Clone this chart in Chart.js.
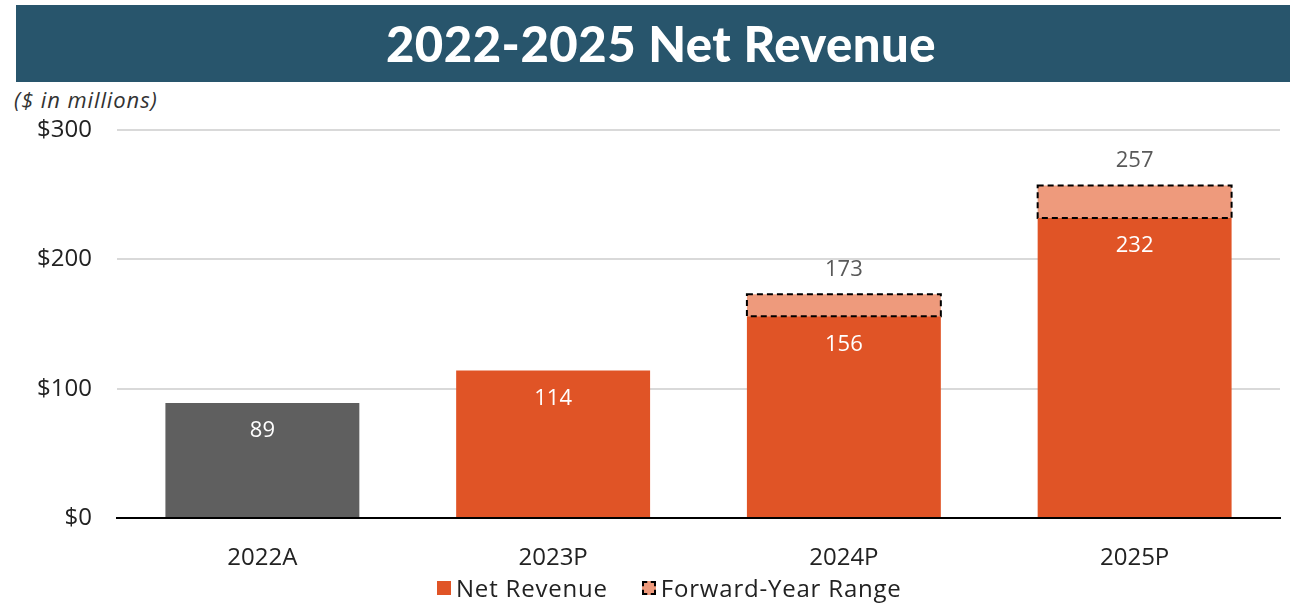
<!DOCTYPE html>
<html>
<head>
<meta charset="utf-8">
<script src="https://cdn.jsdelivr.net/npm/chart.js"></script>
<style>
  html, body { margin: 0; padding: 0; background: #fff; }
  body { width: 1293px; height: 604px; position: relative; overflow: hidden; font-family: "Open Sans", sans-serif; }
  .banner { position: absolute; left: 16px; top: 5px; width: 1274px; height: 77px; background: #28556c;
            color: #fff; font-family: "Lato", sans-serif; font-weight: 900; font-size: 49px; line-height: 77px; text-align: center; }
  .banner span { position: relative; left: 8px; letter-spacing: 0.5px; }
  .sub { position: absolute; left: 14px; top: 84px; font-style: italic; font-size: 22px; color: #333; letter-spacing: 0.9px; }
  .wrap { position: absolute; left: 0; top: 0; width: 1293px; height: 604px; }
  .legend { position: absolute; left: 437px; top: 572px; font-size: 24px; color: #222; display: flex; align-items: center; line-height: 32px; letter-spacing: 0.8px; }
  .legend .box { display: inline-block; width: 14px; height: 14px; margin-right: 5px; box-sizing: border-box; }
  .legend .item { display: flex; align-items: center; margin-right: 34px; }
</style>
</head>
<body>
<div class="banner"><span>2022-2025 Net Revenue</span></div>
<div class="sub">($ in millions)</div>
<div class="wrap"><canvas id="revChart"></canvas></div>
<div class="legend" id="legend"></div>
<script>
const years = ['2022A', '2023P', '2024P', '2025P'];
const netRevenue = [89, 114, 156, 232];
const rangeExtra = [null, null, 17, 25];
const rangeTotal = [null, null, 173, 257];
const yTicks = [0, 100, 200, 300];

const ORANGE = '#e05426';
const GREY = '#5f5f5f';
const LIGHT = '#ee9a7c';

// labels + dashed outline for the range bars
const labelPlugin = {
  id: 'barLabels',
  afterDatasetsDraw(chart) {
    const ctx = chart.ctx;
    const net = chart.getDatasetMeta(0);
    const rng = chart.getDatasetMeta(1);
    ctx.save();
    ctx.textAlign = 'center';
    ctx.textBaseline = 'middle';
    ctx.font = '22px "Open Sans"';
    net.data.forEach((bar, i) => {
      ctx.fillStyle = '#fff';
      ctx.fillText(netRevenue[i], bar.x, bar.y + 28);
    });
    rng.data.forEach((bar, i) => {
      if (rangeExtra[i] == null) return;
      const p = bar.getProps(['x', 'y', 'base', 'width'], true);
      ctx.strokeStyle = '#000';
      ctx.lineWidth = 2;
      ctx.setLineDash([6, 4]);
      ctx.strokeRect(p.x - p.width / 2, p.y, p.width, p.base - p.y);
      ctx.setLineDash([]);
      ctx.fillStyle = '#595959';
      ctx.fillText(rangeTotal[i], p.x, p.y - 25);
    });
    ctx.restore();
  }
};

const chart = new Chart(document.getElementById('revChart'), {
  type: 'bar',
  data: {
    labels: years,
    datasets: [
      { label: 'Net Revenue', data: netRevenue,
        backgroundColor: years.map((y, i) => i === 0 ? GREY : ORANGE) },
      { label: 'Forward-Year Range', data: rangeExtra, backgroundColor: LIGHT }
    ]
  },
  options: {
    responsive: true,
    maintainAspectRatio: false,
    animation: false,
    layout: { padding: { top: 130, left: 0, right: 13, bottom: 0 } },
    datasets: { bar: { barPercentage: 0.667, categoryPercentage: 1 } },
    scales: {
      x: {
        stacked: true,
        afterFit(axis) { axis.height = 86; },
        grid: { display: false },
        border: { color: '#000', width: 2 },
        ticks: { color: '#222', font: { size: 24, family: 'Open Sans' }, padding: 18 }
      },
      y: {
        stacked: true,
        min: 0, max: 300,
        afterFit(axis) { axis.width = 117; },
        afterBuildTicks(axis) { axis.ticks = yTicks.map(v => ({ value: v })); },
        grid: { color: '#d9d9d9', lineWidth: 2, drawTicks: false },
        border: { display: false },
        ticks: { color: '#222', font: { size: 24, family: 'Open Sans' }, padding: 25,
                 callback: v => '$' + v }
      }
    },
    plugins: {
      tooltip: { enabled: false },
      legend: { display: false }
    }
  },
  plugins: [labelPlugin]
});

// legend built from the datasets
document.getElementById('legend').innerHTML = chart.data.datasets.map((ds, i) => {
  const border = i === 1 ? 'border:2px dashed #000;' : '';
  const fill = i === 1 ? LIGHT : ORANGE;
  return `<span class="item"><span class="box" style="background:${fill};${border}"></span>${ds.label}</span>`;
}).join('');
</script>
</body>
</html>
